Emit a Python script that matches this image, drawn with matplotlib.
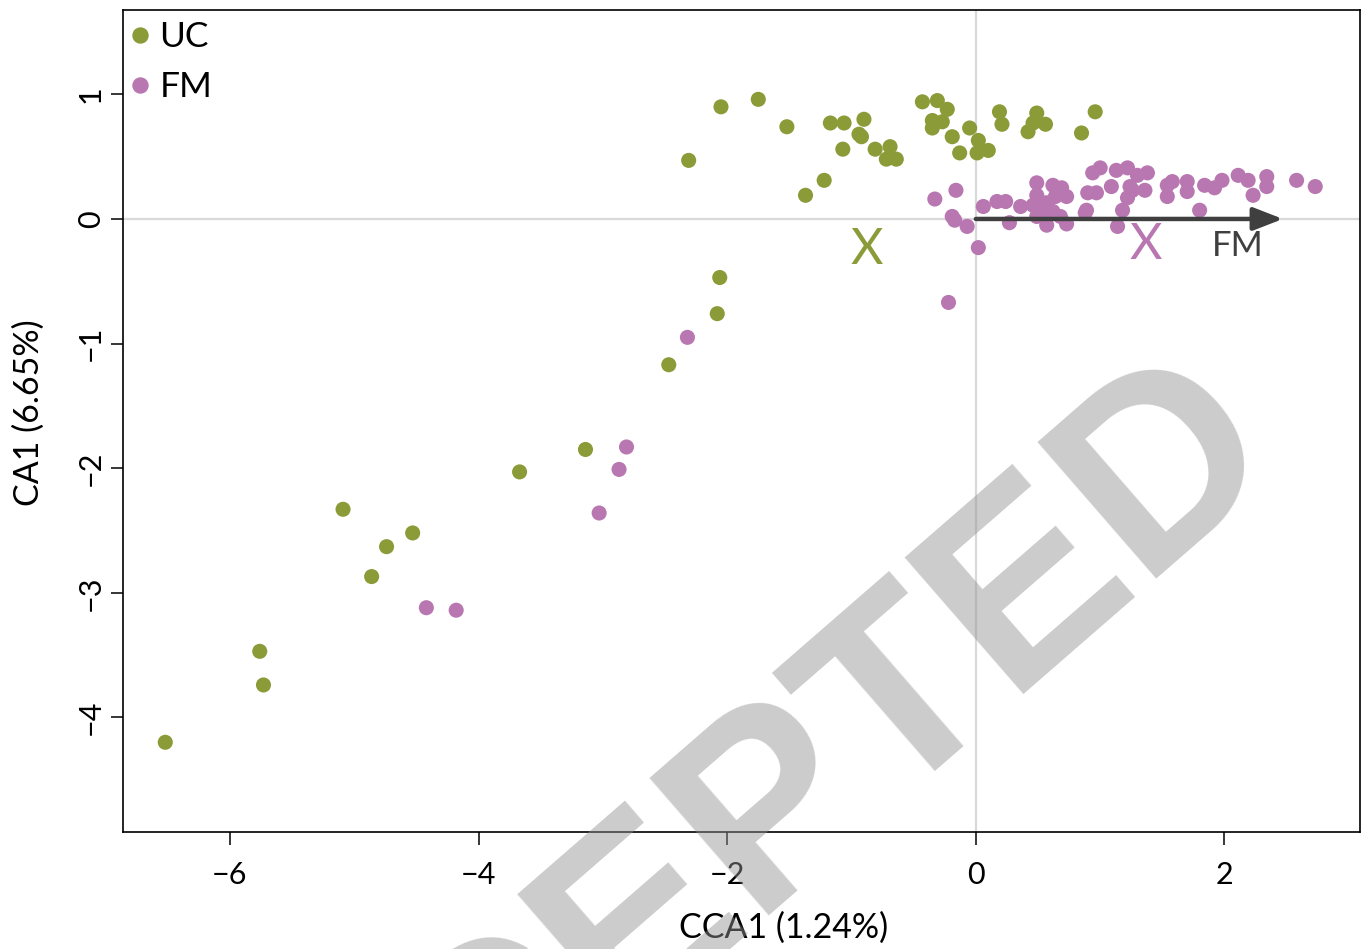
import matplotlib
matplotlib.use("Agg")
import matplotlib.pyplot as plt
from matplotlib.lines import Line2D

# ---- data ----
uc_x = [-6.52, -5.76, -5.73, -5.09, -4.86, -4.74, -4.53, -3.67, -3.14, -2.47,
        -2.08, -2.06, -2.31, -2.05, -1.75, -1.52, -1.37, -1.22, -1.17, -1.06,
        -1.07, -0.94, -0.92, -0.90, -0.81, -0.72, -0.69, -0.64, -0.43, -0.31,
        -0.23, -0.35, -0.27, -0.35, -0.05, -0.19, -0.13, 0.02, 0.01, 0.10,
        0.19, 0.21, 0.49, 0.46, 0.56, 0.42, 0.85, 0.96]
uc_y = [-4.20, -3.47, -3.74, -2.33, -2.87, -2.63, -2.52, -2.03, -1.85, -1.17,
        -0.76, -0.47, 0.47, 0.90, 0.96, 0.74, 0.19, 0.31, 0.77, 0.77,
        0.56, 0.68, 0.66, 0.80, 0.56, 0.48, 0.58, 0.48, 0.94, 0.95,
        0.88, 0.79, 0.78, 0.73, 0.73, 0.66, 0.53, 0.63, 0.53, 0.55,
        0.86, 0.76, 0.85, 0.77, 0.76, 0.70, 0.69, 0.86]

fm_x = [-4.42, -4.18, -3.03, -2.87, -2.81, -2.32, -0.22, -0.33, -0.16, -0.19,
        -0.17, -0.07, 0.02, 0.06, 0.17, 0.24, 0.27, 0.36, 0.49, 0.49,
        0.46, 0.49, 0.51, 0.62, 0.69, 0.64, 0.73, 0.57, 0.62, 0.57,
        0.73, 0.68, 0.55, 0.89, 0.90, 0.97, 0.94, 1.00, 1.13, 1.22,
        1.30, 1.38, 1.09, 1.24, 1.36, 1.22, 1.18, 1.14, 1.54, 1.58,
        1.70, 1.54, 1.70, 1.80, 1.84, 1.92, 1.98, 2.11, 2.19, 2.23,
        2.34, 2.34, 2.58, 2.73, 0.88, 1.26]
fm_y = [-3.12, -3.14, -2.36, -2.01, -1.83, -0.95, -0.67, 0.16, 0.23, 0.02,
        -0.01, -0.06, -0.23, 0.10, 0.14, 0.14, -0.03, 0.10, 0.29, 0.19,
        0.11, 0.02, 0.14, 0.27, 0.25, 0.18, 0.18, 0.13, 0.06, -0.05,
        -0.04, 0.02, 0.07, 0.07, 0.21, 0.21, 0.37, 0.41, 0.39, 0.41,
        0.35, 0.37, 0.26, 0.26, 0.23, 0.17, 0.07, -0.06, 0.27, 0.30,
        0.30, 0.18, 0.22, 0.07, 0.27, 0.25, 0.31, 0.35, 0.31, 0.19,
        0.34, 0.26, 0.31, 0.26, 0.05, 0.23]

groups = ["UC", "FM"]
centroid_x = [-0.88, 1.37]
centroid_y = [-0.25, -0.21]
arrow_end = [2.47, 0.0]
arrow_label = "FM"
x_ticks = [-6, -4, -2, 0, 2]
y_ticks = [-4, -3, -2, -1, 0, 1]
x_label = "CCA1 (1.24%)"
y_label = "CA1 (6.65%)"
watermark = "ACCEPTED"

green = "#8a9b38"
purple = "#b877b1"
dark = "#3f3f3f"

plt.rcParams["font.family"] = ["Lato", "DejaVu Sans"]

fig = plt.figure(figsize=(13.66, 9.49), dpi=100)
ax = fig.add_axes([123/1366, 1-832/949, (1360-123)/1366, (832-10)/949])
ax.set_xlim(-6.86, 3.09)
ax.set_ylim(-4.92, 1.677)

ax.axhline(0, color="#d9d9d9", lw=1.6, zorder=0)
ax.axvline(0, color="#d9d9d9", lw=1.6, zorder=0)

ax.scatter(uc_x, uc_y, s=118, c=green, edgecolors="none", zorder=3)
ax.scatter(fm_x, fm_y, s=118, c=purple, edgecolors="none", zorder=3)

ax.annotate("", xy=(arrow_end[0], arrow_end[1]), xytext=(0, 0),
            arrowprops=dict(arrowstyle="-|>,head_length=0.9,head_width=0.35",
                            mutation_scale=20, lw=3.2, color=dark,
                            shrinkA=0, shrinkB=0), zorder=5)
ax.text(2.11, -0.22, arrow_label, color=dark, fontsize=25,
        ha="center", va="center", zorder=6)

for cx, cy, col in zip(centroid_x, centroid_y, [green, purple]):
    ax.text(cx, cy, "X", color=col, fontsize=36, ha="center", va="center", zorder=6)

ax.set_xticks(x_ticks)
ax.set_xticklabels(["\u2212" + str(abs(t)) if t < 0 else str(t) for t in x_ticks])
ax.set_yticks(y_ticks)
ax.set_yticklabels(["\u2212" + str(abs(t)) if t < 0 else str(t) for t in y_ticks],
                   rotation=90, va="center")
ax.tick_params(axis="both", direction="out", length=9, width=1.1, labelsize=22)
ax.tick_params(axis="x", pad=12)
ax.tick_params(axis="y", pad=4)
for sp in ax.spines.values():
    sp.set_linewidth(1.2)

ax.set_xlabel(x_label, fontsize=24.5)
ax.xaxis.set_label_coords(0.534, -0.097)
ax.set_ylabel(y_label, fontsize=24.5)
ax.yaxis.set_label_coords(-0.063, 0.51)

handles = [Line2D([], [], marker="o", ls="none", color=green, markersize=10.8),
           Line2D([], [], marker="o", ls="none", color=purple, markersize=10.8)]
ax.legend(handles, groups, loc="upper left", bbox_to_anchor=(-0.012, 1.012),
          frameon=False, fontsize=25.5, handlelength=0.6, handletextpad=0.25,
          labelspacing=0.5, borderaxespad=0.2)

fig.text(694/1366, 1-885/949, watermark, fontsize=190, fontweight="bold",
         family="Liberation Sans", color="#929292", alpha=0.47,
         rotation=41, rotation_mode="anchor", ha="center", va="center", zorder=20)

fig.savefig("out.png", dpi=100)
